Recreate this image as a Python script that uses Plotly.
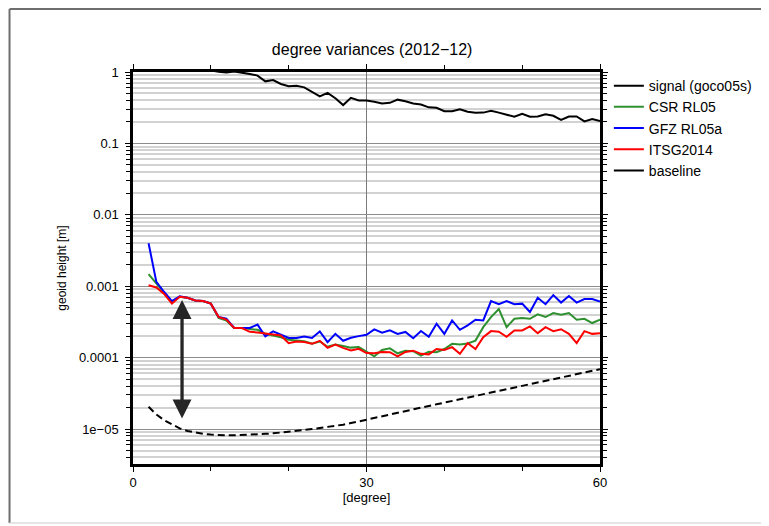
import math
import plotly.graph_objects as go

degrees = list(range(2, 61))

signal_goco05s = [30, 6, 3.5, 2.5, 2.0, 1.7, 1.5, 1.35, 1.05, 1.01, 0.985, 1.02, 0.99,
                  0.94, 0.89, 0.74, 0.77, 0.68, 0.63, 0.64, 0.61, 0.53, 0.455, 0.51, 0.43,
                  0.344, 0.435, 0.40, 0.40, 0.383, 0.363, 0.37, 0.41, 0.39, 0.363, 0.35,
                  0.32, 0.315, 0.283, 0.283, 0.30, 0.277, 0.268, 0.27, 0.286, 0.27, 0.255,
                  0.236, 0.26, 0.236, 0.238, 0.255, 0.244, 0.214, 0.238, 0.238, 0.203,
                  0.219, 0.205]

csr_rl05 = [0.00148, 0.00109, 0.00083, 0.00060, 0.00071, 0.00069, 0.00063, 0.00062,
            0.00057, 0.00036, 0.00033, 0.00026, 0.00026, 0.00025, 0.000245, 0.000215,
            0.000204, 0.000193, 0.000178, 0.000173, 0.000170, 0.000156, 0.000168,
            0.000142, 0.000152, 0.000145, 0.000138, 0.000141, 0.000121, 0.000104,
            0.000128, 0.000135, 0.000115, 0.000125, 0.000123, 0.000107, 0.000121,
            0.000119, 0.000132, 0.000156, 0.000153, 0.000158, 0.000173, 0.000267,
            0.00037, 0.00048, 0.000267, 0.00035, 0.00036, 0.00035, 0.000403, 0.00037,
            0.00042, 0.00040, 0.00042, 0.00034, 0.00035, 0.000305, 0.00034]

gfz_rl05a = [0.0040, 0.00115, 0.00083, 0.00062, 0.00072, 0.00069, 0.00063, 0.00062,
             0.00057, 0.00037, 0.00035, 0.00026, 0.00026, 0.00026, 0.00029, 0.000198,
             0.000233, 0.00021, 0.000188, 0.000188, 0.000198, 0.000188, 0.000233,
             0.000165, 0.000215, 0.000172, 0.00019, 0.0002, 0.000209, 0.000248,
             0.000223, 0.000241, 0.000215, 0.000229, 0.000187, 0.000236, 0.000196,
             0.000298, 0.000215, 0.000332, 0.000245, 0.000283, 0.00034, 0.000332,
             0.00062, 0.00056, 0.00062, 0.00056, 0.00057, 0.000435, 0.00069, 0.00056,
             0.00075, 0.00059, 0.00073, 0.00059, 0.00066, 0.00066, 0.00061]

itsg2014 = [0.00103, 0.00096, 0.00078, 0.00057, 0.00071, 0.00069, 0.00063, 0.00062,
            0.00057, 0.00037, 0.00034, 0.00026, 0.00026, 0.00023, 0.000225, 0.000215,
            0.00021, 0.000204, 0.000159, 0.000168, 0.000165, 0.000156, 0.000172,
            0.000137, 0.000152, 0.000137, 0.000126, 0.000133, 0.000116, 0.000115,
            0.00012, 0.000119, 0.000104, 0.00012, 0.000125, 0.000113, 0.000111,
            0.000132, 0.000128, 0.00014, 0.000113, 0.000159, 0.000132, 0.000193,
            0.000235, 0.00023, 0.000196, 0.00024, 0.00024, 0.000273, 0.00022,
            0.000267, 0.000235, 0.00025, 0.000215, 0.00016, 0.000235, 0.000215, 0.00022]

baseline = [2.05e-5, 1.6e-5, 1.33e-5, 1.15e-5, 1.02e-5, 9.4e-6, 8.9e-6, 8.55e-6,
            8.35e-6, 8.2e-6, 8.15e-6, 8.15e-6, 8.2e-6, 8.3e-6, 8.4e-6, 8.55e-6, 8.7e-6,
            8.9e-6, 9.1e-6, 9.4e-6, 9.7e-6, 1.0e-5, 1.03e-5, 1.07e-5, 1.11e-5, 1.15e-5,
            1.21e-5, 1.28e-5, 1.35e-5, 1.45e-5, 1.52e-5, 1.61e-5, 1.70e-5, 1.79e-5,
            1.89e-5, 2.0e-5, 2.11e-5, 2.22e-5, 2.34e-5, 2.48e-5, 2.61e-5, 2.76e-5,
            2.91e-5, 3.07e-5, 3.24e-5, 3.42e-5, 3.61e-5, 3.81e-5, 4.02e-5, 4.25e-5,
            4.48e-5, 4.72e-5, 4.99e-5, 5.26e-5, 5.56e-5, 5.86e-5, 6.18e-5, 6.53e-5,
            6.89e-5]

y_tickvals = [1, 0.1, 0.01, 0.001, 0.0001, 0.00001]
y_ticktext = ["1", "0.1", "0.01", "0.001", "0.0001", "1e\u221205"]
x_tickvals = [0, 30, 60]
x_ticktext = ["0", "30", "60"]
x_minorvals = [10, 20, 40, 50]
y_minorvals = [m * 10.0 ** e for e in range(-6, 0) for m in range(2, 10)]

# arrow (degree, value) endpoints
arrow_degree = 6.3
arrow_top = 6.4e-4
arrow_bottom = 1.34e-5

FONT = "Liberation Sans, Arial, Helvetica, sans-serif"

fig = go.Figure()
fig.add_trace(go.Scatter(x=degrees, y=signal_goco05s, mode="lines", name="signal (goco05s)",
                         line=dict(color="black", width=2)))
fig.add_trace(go.Scatter(x=degrees, y=csr_rl05, mode="lines", name="CSR RL05",
                         line=dict(color="#2f902f", width=2)))
fig.add_trace(go.Scatter(x=degrees, y=gfz_rl05a, mode="lines", name="GFZ RL05a",
                         line=dict(color="#0000ff", width=2)))
fig.add_trace(go.Scatter(x=degrees, y=itsg2014, mode="lines", name="ITSG2014",
                         line=dict(color="#ff0000", width=2)))
fig.add_trace(go.Scatter(x=degrees, y=baseline, mode="lines", name="baseline", showlegend=False,
                         line=dict(color="black", width=2, dash="7px,4px")))
fig.add_trace(go.Scatter(x=[None], y=[None], mode="lines", name="baseline",
                         line=dict(color="black", width=2)))

fig.add_annotation(x=arrow_degree, y=math.log10(arrow_top), ax=arrow_degree,
                   ay=math.log10(arrow_bottom), xref="x", yref="y", axref="x", ayref="y",
                   text="", showarrow=True, arrowhead=2, startarrowhead=2,
                   arrowside="end+start", arrowwidth=3.3, arrowsize=1.15,
                   startarrowsize=1.15, arrowcolor="#262626", standoff=0, startstandoff=0)

# outer gray frame
fig.add_shape(type="line", xref="paper", yref="paper", x0=-0.2644, x1=1.36,
              y0=1.1607, y1=1.1607, line=dict(color="#6e6e6e", width=2))
fig.add_shape(type="line", xref="paper", yref="paper", x0=-0.2644, x1=-0.2644,
              y0=1.1607, y1=-0.1505, line=dict(color="#6e6e6e", width=2))
fig.add_shape(type="line", xref="paper", yref="paper", x0=-0.2644, x1=1.36,
              y0=-0.1505, y1=-0.1505, line=dict(color="#dddddd", width=1.5))

fig.update_layout(
    width=761, height=518,
    margin=dict(l=125, r=167, t=64, b=62),
    paper_bgcolor="white", plot_bgcolor="white",
    font=dict(family=FONT, size=13, color="black"),
    title=dict(text="degree variances (2012\u221212)", x=0.4785, xanchor="center",
               y=1 - 41 / 518, yanchor="middle", font=dict(size=16, color="black")),
    legend=dict(x=1.019, y=1.005, xanchor="left", yanchor="top", bgcolor="rgba(0,0,0,0)",
                font=dict(size=14, color="black"), borderwidth=0),
    showlegend=True,
)

fig.update_xaxes(range=[0, 60], tickmode="array", tickvals=x_tickvals, ticktext=x_ticktext,
                 ticks="outside", ticklen=5, tickcolor="black", tickwidth=1,
                 showline=True, linecolor="black", linewidth=2.5, mirror="ticks",
                 showgrid=True, gridcolor="#7a7a7a", gridwidth=1, zeroline=False,
                 tickfont=dict(size=13),
                 minor=dict(tickmode="array", tickvals=x_minorvals, ticks="outside",
                            ticklen=4, tickcolor="black", showgrid=False),
                 title=dict(text="[degree]", standoff=1, font=dict(size=13)))

fig.update_yaxes(type="log", range=[-5.49, 0], tickmode="array", tickvals=y_tickvals,
                 ticktext=y_ticktext, ticks="outside", ticklen=5, tickcolor="black",
                 tickwidth=1, showline=True, linecolor="black", linewidth=2.5, mirror="ticks",
                 showgrid=True, gridcolor="#8c8c8c", gridwidth=1, zeroline=False,
                 tickfont=dict(size=13), ticklabelstandoff=4,
                 minor=dict(tickmode="array", tickvals=y_minorvals, ticks="outside",
                            ticklen=4, tickcolor="black", showgrid=True,
                            gridcolor="#d2d2d2", gridwidth=1.5),
                 title=dict(text="geoid height [m]", standoff=10, font=dict(size=12)))

fig.write_html("out.html")
